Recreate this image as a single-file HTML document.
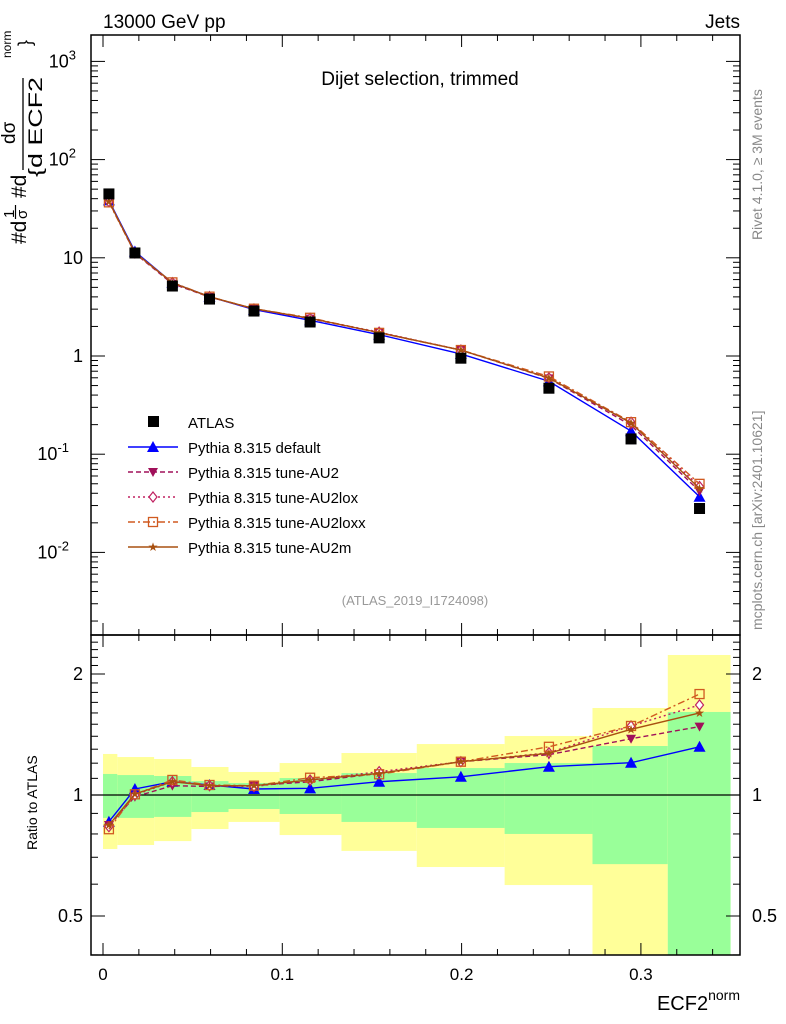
<!DOCTYPE html>
<html><head><meta charset="utf-8"><style>
body{margin:0;background:#fff;}
svg{display:block;font-family:"Liberation Sans",sans-serif;}
</style></head><body>
<svg id="c" width="786" height="1024" viewBox="0 0 786 1024">
<text x="103" y="28" font-size="19">13000 GeV pp</text>
<text x="740" y="28" font-size="19" text-anchor="end">Jets</text>
<text x="420" y="85" font-size="19" text-anchor="middle">Dijet selection, trimmed</text>
<text x="415" y="605" font-size="13" fill="#999" text-anchor="middle">(ATLAS_2019_I1724098)</text>
<text transform="translate(762,240) rotate(-90)" font-size="14" fill="#888">Rivet 4.1.0, ≥ 3M events</text>
<text transform="translate(762,630) rotate(-90)" font-size="14" fill="#888">mcplots.cern.ch [arXiv:2401.10621]</text>
<g>
<text transform="translate(26,244) rotate(-90)" font-size="21">#d</text>
<text transform="translate(14,218) rotate(-90)" font-size="15">1</text>
<line x1="15.5" y1="205" x2="15.5" y2="219" stroke="#000" stroke-width="1.2"/>
<text transform="translate(27,219) rotate(-90)" font-size="15">σ</text>
<text transform="translate(26,198) rotate(-90)" font-size="21">#d</text>
<text transform="translate(15,144) rotate(-90)" font-size="19">dσ</text>
<line x1="23" y1="78" x2="23" y2="170" stroke="#000" stroke-width="1.3"/>
<text transform="translate(42,177) rotate(-90)" font-size="19" textLength="100" lengthAdjust="spacingAndGlyphs">{d ECF2</text>
<text transform="translate(11,58) rotate(-90)" font-size="12">norm</text>
<text transform="translate(31,46) rotate(-90)" font-size="18">}</text>
</g>
<text transform="translate(37,850) rotate(-90)" font-size="14">Ratio to ATLAS</text>
<text x="740" y="1010" font-size="20" text-anchor="end">ECF2<tspan font-size="14" dy="-10">norm</tspan></text>
<g id="bands"></g><g id="ratio"></g><g id="main"></g><g id="axes"></g><g id="legend"></g>
</svg>
<script>
const xs=[0.0033,0.0178,0.0387,0.0594,0.0842,0.1155,0.154,0.1996,0.2487,0.2945,0.3327];
const edges=[0,0.008,0.0285,0.0493,0.07,0.0985,0.133,0.175,0.224,0.273,0.315,0.35];
const atlas=[44.7,11.2,5.16,3.8,2.87,2.22,1.53,0.95,0.47,0.143,0.028];
const mDefault=[38.4,11.6,5.57,4.02,2.97,2.31,1.65,1.05,0.553,0.172,0.0369];
const mAU2=[37.6,11.1,5.44,3.99,3.03,2.40,1.73,1.15,0.592,0.197,0.042];
const mLox=[37.3,11.2,5.57,4.01,3.01,2.42,1.75,1.15,0.599,0.212,0.0469];
const mLoxx=[36.7,11.2,5.62,4.02,3.03,2.45,1.72,1.15,0.619,0.212,0.0499];
const mAU2m=[37.6,11.3,5.57,4.01,3.03,2.42,1.73,1.15,0.597,0.208,0.0448];
const rDefault=[0.858,1.035,1.079,1.059,1.035,1.039,1.079,1.11,1.176,1.203,1.318];
const rAU2=[0.842,0.99,1.055,1.05,1.055,1.079,1.132,1.21,1.26,1.38,1.48];
const rLox=[0.834,1.0,1.079,1.055,1.05,1.09,1.143,1.21,1.274,1.485,1.675];
const rLoxx=[0.822,1.004,1.09,1.059,1.055,1.104,1.126,1.21,1.318,1.485,1.783];
const rAU2m=[0.842,1.006,1.079,1.055,1.055,1.09,1.132,1.21,1.27,1.457,1.6];
const yelHi=[1.265,1.243,1.229,1.174,1.141,1.201,1.272,1.339,1.402,1.646,2.23];
const yelLo=[0.734,0.751,0.768,0.823,0.857,0.795,0.726,0.662,0.597,0.3,0.3];
const grnHi=[1.128,1.121,1.115,1.083,1.071,1.102,1.134,1.167,1.201,1.324,1.609];
const grnLo=[0.877,0.877,0.882,0.907,0.923,0.897,0.857,0.828,0.8,0.673,0.3];
const xTicks=[0,0.1,0.2,0.3];
const yTicksMain=[1000,100,10,1,0.1,0.01];
const yTickLabels=["10^3","10^2","10","1","10^-1","10^-2"];
const rTicks=[0.5,1,2];

const NS="http://www.w3.org/2000/svg";
const L=91,R=740,T=35,MB=635,RB=955;
const X=v=>103+v*1793;
const Y=v=>356-Math.log10(v)*98.2;
const RY=v=>Math.max(T+600, Math.min(RB, 795-Math.log2(v)*121));
function mk(p,tag,at){const e=document.createElementNS(NS,tag);for(const k in at)e.setAttribute(k,at[k]);document.getElementById(p).appendChild(e);return e;}

for(let i=0;i<xs.length;i++){
  const x0=X(edges[i]),x1=X(edges[i+1]);
  let e=mk('bands','rect',{x:x0,y:RY(yelHi[i]),width:x1-x0,height:RY(yelLo[i])-RY(yelHi[i]),fill:'#ffff99'});
  
  
  e=mk('bands','rect',{x:x0,y:RY(grnHi[i]),width:x1-x0,height:RY(grnLo[i])-RY(grnHi[i]),fill:'#99ff99'});
  
  
}
let ln=mk('ratio','line',{x1:L,x2:R,y1:RY(1),y2:RY(1),stroke:'#000','stroke-width':1.3});



const series=[
 {name:'default',main:mDefault,ratio:rDefault,col:'#0000ff',dash:'',mk:'tri'},
 {name:'au2',main:mAU2,ratio:rAU2,col:'#a0105a',dash:'5,3',mk:'tridown'},
 {name:'au2lox',main:mLox,ratio:rLox,col:'#c02060',dash:'2,3',mk:'diamond'},
 {name:'au2loxx',main:mLoxx,ratio:rLoxx,col:'#d05a20',dash:'7,3,2,3',mk:'square'},
 {name:'au2m',main:mAU2m,ratio:rAU2m,col:'#a85010',dash:'',mk:'star'}];
function marker(g,type,x,y,col){
  let e;
  if(type==='tri')e=mk(g,'path',{d:`M${x-6},${y+5}L${x+6},${y+5}L${x},${y-6}Z`,fill:col});
  else if(type==='tridown')e=mk(g,'path',{d:`M${x-5},${y-4}L${x+5},${y-4}L${x},${y+5}Z`,fill:col});
  else if(type==='diamond')e=mk(g,'path',{d:`M${x},${y-5}L${x+4},${y}L${x},${y+5}L${x-4},${y}Z`,fill:'#fff',stroke:col,'stroke-width':1.2});
  else if(type==='square')e=mk(g,'rect',{x:x-4.5,y:y-4.5,width:9,height:9,fill:'none',stroke:col,'stroke-width':1.3});
  else if(type==='star')e=mk(g,'text',{x:x,y:y+4,'font-size':12,'text-anchor':'middle',fill:col});
  if(type==='star')e.textContent='★';
  return e;
}
for(const s of series){
  for(const [g,arr,fy] of [['main',s.main,Y],['ratio',s.ratio,RY]]){
    const p=mk(g,'polyline',{points:xs.map((x,i)=>X(x)+','+fy(arr[i])).join(' '),fill:'none',stroke:s.col,'stroke-width':1.4,'stroke-dasharray':s.dash});
    
    
    xs.forEach((x,i)=>{const m=marker(g,s.mk,X(x),fy(arr[i]),s.col);
      
      });
  }
}
xs.forEach((x,i)=>{const r=mk('main','rect',{x:X(x)-5.5,y:Y(atlas[i])-5.5,width:11,height:11,fill:'#000'});
  
  });

for(const [t,b] of [[T,MB],[MB,RB]]){
  const f=mk('axes','rect',{x:L,y:t,width:R-L,height:b-t,fill:'none',stroke:'#000','stroke-width':1.5});
  
  
  for(let v=0;v<=0.34;v+=0.02){const maj=Math.abs(v*10-Math.round(v*10))<1e-6;const h=maj?12:6;
    mk('axes','line',{x1:X(v),x2:X(v),y1:b,y2:b-h,stroke:'#000'});
    mk('axes','line',{x1:X(v),x2:X(v),y1:t,y2:t+h,stroke:'#000'});}
}
xTicks.forEach(v=>{const t=mk('axes','text',{x:X(v),y:980,'font-size':17,'text-anchor':'middle'});t.textContent=v===0?'0':String(v);
  
  });
for(let d=-3;d<4;d++)for(let m=1;m<10;m++){const v=m*Math.pow(10,d);const y=Y(v);if(y<T||y>MB)continue;const h=m===1?14:7;
  mk('axes','line',{x1:L,x2:L+h,y1:y,y2:y,stroke:'#000'});mk('axes','line',{x1:R,x2:R-h,y1:y,y2:y,stroke:'#000'});}
yTicksMain.forEach((v,i)=>{const s=yTickLabels[i];const t=mk('axes','text',{x:83,y:Y(v)+6,'font-size':18,'text-anchor':'end'});
  if(s.includes('^')){const [a,b]=s.split('^');t.textContent=a;const ts=document.createElementNS(NS,'tspan');ts.setAttribute('dy','-8');ts.setAttribute('font-size','13');ts.textContent=b;t.appendChild(ts);t.setAttribute('x',83-(b.length*7));}
  else t.textContent=s;
  
  });
for(let v=0.4;v<2.55;v+=0.1){const y=RY(v);if(y<=MB+1||y>=RB)continue;const maj=rTicks.some(r=>Math.abs(r-v)<1e-6);const h=maj?14:7;
  mk('axes','line',{x1:L,x2:L+h,y1:y,y2:y,stroke:'#000'});mk('axes','line',{x1:R,x2:R-h,y1:y,y2:y,stroke:'#000'});}
rTicks.forEach(v=>{for(const [x,a] of [[83,'end'],[752,'start']]){const t=mk('axes','text',{x:x,y:RY(v)+6,'font-size':18,'text-anchor':a});t.textContent=String(v);
  
  }});

const legNames=['ATLAS','Pythia 8.315 default','Pythia 8.315 tune-AU2','Pythia 8.315 tune-AU2lox','Pythia 8.315 tune-AU2loxx','Pythia 8.315 tune-AU2m'];
legNames.forEach((n,i)=>{const y=422+i*25;
  if(i===0){mk('legend','rect',{x:148,y:y-6,width:11,height:11,fill:'#000'});}
  else{const s=series[i-1];mk('legend','line',{x1:128,x2:178,y1:y,y2:y,stroke:s.col,'stroke-width':1.4,'stroke-dasharray':s.dash});marker('legend',s.mk,153,y,s.col);}
  const t=mk('legend','text',{x:188,y:y+6,'font-size':15});t.textContent=n;
  
  });
</script>
</body></html>
